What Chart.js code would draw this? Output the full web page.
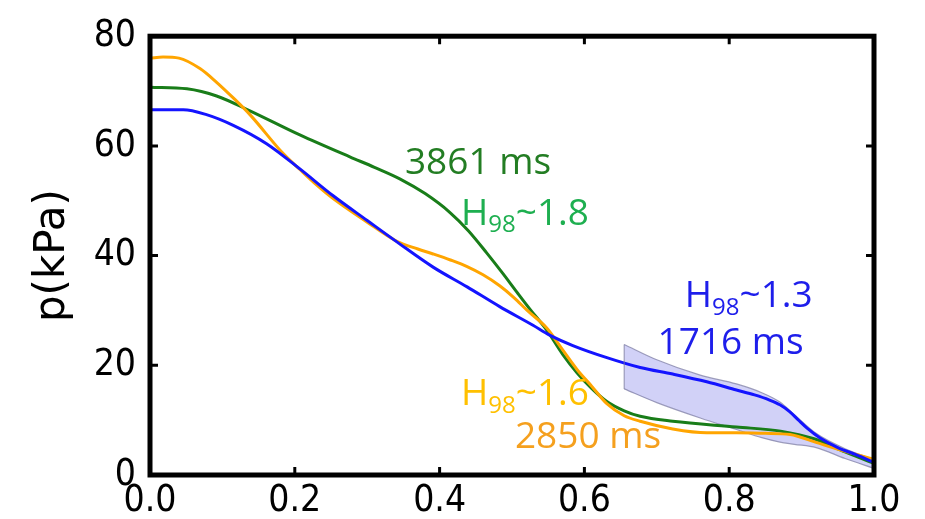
<!DOCTYPE html>
<html><head><meta charset="utf-8">
<script src="https://cdn.jsdelivr.net/npm/chart.js@4"></script>
<style>html,body{margin:0;padding:0;background:#fff}</style>
</head><body>
<canvas id="c" width="925" height="519"></canvas>
<script>
// ---- data ----
const xTicks = [0, 0.2, 0.4, 0.6, 0.8, 1.0];
const yTicks = [0, 20, 40, 60, 80];

const blueX = [0, 0.046, 0.078, 0.115, 0.161, 0.207, 0.253, 0.3, 0.341, 0.391, 0.438, 0.483, 0.529, 0.552, 0.584, 0.631, 0.677, 0.722, 0.769, 0.81, 0.835, 0.855, 0.87, 0.883, 0.895, 0.908, 0.925, 0.95, 0.975, 1.0];
const blueY = [66.6, 66.6, 65.7, 63.75, 60.4, 55.8, 50.9, 46.4, 42.5, 37.9, 34.3, 30.7, 27.3, 25.5, 23.6, 21.4, 19.6, 18.4, 17, 15.5, 14.6, 13.7, 12.8, 11.6, 10.1, 8.5, 6.8, 5.0, 3.7, 2.3];

const greenX = [0, 0.051, 0.092, 0.138, 0.207, 0.276, 0.31, 0.345, 0.38, 0.414, 0.44, 0.465, 0.487, 0.507, 0.525, 0.548, 0.57, 0.59, 0.61, 0.631, 0.655, 0.677, 0.722, 0.81, 0.871, 0.917, 0.96, 1.0];
const greenY = [70.7, 70.4, 69.1, 66.4, 62, 58, 56.1, 54, 51.3, 47.9, 44.5, 40.5, 36.8, 33.3, 30.2, 26.4, 22, 18.6, 15.8, 13.4, 11.7, 10.7, 9.8, 8.75, 8, 6.6, 4.2, 2.1];

const orangeX = [0, 0.018, 0.04, 0.069, 0.092, 0.115, 0.138, 0.184, 0.207, 0.23, 0.253, 0.3, 0.341, 0.37, 0.391, 0.415, 0.438, 0.46, 0.483, 0.503, 0.521, 0.548, 0.57, 0.59, 0.61, 0.631, 0.655, 0.677, 0.722, 0.769, 0.81, 0.85, 0.884, 0.921, 0.96, 1.0];
const orangeY = [76, 76.2, 76, 74.1, 71.6, 68.75, 65.7, 58.6, 55.7, 52.9, 50.4, 46.1, 42.6, 41.2, 40.3, 39.2, 38, 36.5, 34.5, 32.3, 30, 26.8, 22.8, 19.2, 16.2, 13, 10.8, 9.8, 8.4, 7.7, 7.7, 7.6, 7.4, 5.9, 4.3, 2.9];

const bandX     = [0.655, 0.70, 0.76, 0.81, 0.845, 0.87, 0.89, 0.92, 0.96, 1.0];
const bandUpper = [23.8, 21.0, 18.2, 16.6, 15.0, 13.3, 11.0, 7.6, 4.8, 2.8];
const bandLower = [15.7, 13.2, 10.4, 8.3, 6.8, 6.0, 5.6, 5.0, 3.0, 1.2];

// annotations: [main, subscript, rest]
const annParts  = [['3861 ms','',''], ['H','98','~1.8'], ['H','98','~1.3'], ['1716 ms','',''], ['H','98','~1.6'], ['2850 ms','','']];
const annX      = [0.453, 0.518, 0.827, 0.802, 0.518, 0.605];
const annY      = [56.8, 47.5, 32.5, 23.9, 14.6, 6.8];
const annColors = ['rgb(35,125,35)', 'rgb(30,175,80)', 'rgb(30,30,235)', 'rgb(30,30,235)', 'rgb(255,192,0)', 'rgb(245,160,30)'];

const pts = (xs, ys) => xs.map((x, i) => ({x: x, y: ys[i]}));

const frame = {
  id: 'frame',
  afterDatasetsDraw(chart) {
    const ctx = chart.ctx;
    const xs = chart.scales.x, ys = chart.scales.y;
    ctx.save();
    // closing edge at the left end of the shaded band
    ctx.strokeStyle = 'rgba(120,120,160,0.7)';
    ctx.lineWidth = 1.2;
    ctx.beginPath();
    ctx.moveTo(xs.getPixelForValue(bandX[0]), ys.getPixelForValue(bandUpper[0]));
    ctx.lineTo(xs.getPixelForValue(bandX[0]), ys.getPixelForValue(bandLower[0]));
    ctx.stroke();
    ctx.textBaseline = 'middle';
    annParts.forEach((p, i) => {
      const F = 37;
      const mainFont = F + 'px "Open Sans"';
      const subFont = Math.round(F * 0.65) + 'px "Open Sans"';
      ctx.font = mainFont; const w1 = ctx.measureText(p[0]).width; const w3 = ctx.measureText(p[2]).width;
      ctx.font = subFont; const w2 = ctx.measureText(p[1]).width;
      const cx = xs.getPixelForValue(annX[i]), cy = ys.getPixelForValue(annY[i]);
      let x0 = cx - (w1 + w2 + w3) / 2;
      ctx.fillStyle = annColors[i];
      ctx.textAlign = 'left';
      ctx.font = mainFont; ctx.fillText(p[0], x0, cy);
      ctx.font = subFont; ctx.fillText(p[1], x0 + w1, cy + F * 0.3);
      ctx.font = mainFont; ctx.fillText(p[2], x0 + w1 + w2, cy);
    });
    ctx.restore();
  },
  afterDraw(chart) {
    const ctx = chart.ctx, a = chart.chartArea;
    const xs = chart.scales.x, ys = chart.scales.y;
    ctx.save();
    ctx.strokeStyle = '#000';
    ctx.lineWidth = 3;
    const L = 8;
    xTicks.forEach(v => {
      const px = xs.getPixelForValue(v);
      ctx.beginPath();
      ctx.moveTo(px, a.bottom); ctx.lineTo(px, a.bottom - L);
      ctx.moveTo(px, a.top); ctx.lineTo(px, a.top + L);
      ctx.stroke();
    });
    yTicks.forEach(v => {
      const py = ys.getPixelForValue(v);
      ctx.beginPath();
      ctx.moveTo(a.left, py); ctx.lineTo(a.left + L, py);
      ctx.moveTo(a.right, py); ctx.lineTo(a.right - L, py);
      ctx.stroke();
    });
    ctx.lineWidth = 5;
    ctx.strokeRect(a.left, a.top, a.right - a.left, a.bottom - a.top);
    ctx.restore();
  }
};

const tickFont = {family: '"DejaVu Sans Condensed", "Liberation Sans Narrow", "DejaVu Sans"', size: 37};
const lineOpts = {borderWidth: 3, pointRadius: 0, cubicInterpolationMode: 'monotone', fill: false};

new Chart(document.getElementById('c'), {
  type: 'line',
  data: {
    datasets: [
      Object.assign({data: pts(blueX, blueY), borderColor: 'rgb(20,20,255)'}, lineOpts),
      Object.assign({data: pts(orangeX, orangeY), borderColor: 'rgb(255,165,0)'}, lineOpts),
      Object.assign({data: pts(greenX, greenY), borderColor: 'rgb(25,125,25)'}, lineOpts),
      {data: pts(bandX, bandUpper), borderColor: 'rgba(120,120,160,0.7)', borderWidth: 1.2, pointRadius: 0, cubicInterpolationMode: 'monotone', fill: false},
      {data: pts(bandX, bandLower), borderColor: 'rgba(120,120,160,0.7)', borderWidth: 1.2, pointRadius: 0, cubicInterpolationMode: 'monotone', fill: '-1', backgroundColor: 'rgba(115,115,230,0.33)'}
    ]
  },
  options: {
    responsive: false,
    animation: false,
    layout: {padding: {left: 0, right: 51, top: 27, bottom: 0}},
    plugins: {legend: {display: false}, tooltip: {enabled: false}, title: {display: false}},
    scales: {
      x: {
        type: 'linear', min: 0, max: 1,
        afterBuildTicks: s => { s.ticks = xTicks.map(v => ({value: v})); },
        afterFit: s => { s.height = 44; },
        grid: {display: false, drawTicks: false},
        border: {display: false},
        ticks: {color: '#000', font: tickFont, padding: 4, autoSkip: false, maxRotation: 0, callback: v => Number(v).toFixed(1)}
      },
      y: {
        min: 0, max: 80,
        afterBuildTicks: s => { s.ticks = yTicks.map(v => ({value: v})); },
        afterFit: s => { s.width = 150; },
        grid: {display: false, drawTicks: false},
        border: {display: false},
        ticks: {color: '#000', font: tickFont, padding: 14, autoSkip: false, callback: v => String(v)},
        title: {display: true, text: 'p(kPa)', color: '#000', font: {family: '"DejaVu Sans"', size: 42}, padding: {top: 28, bottom: 0}}
      }
    }
  },
  plugins: [frame]
});
</script>
</body></html>
